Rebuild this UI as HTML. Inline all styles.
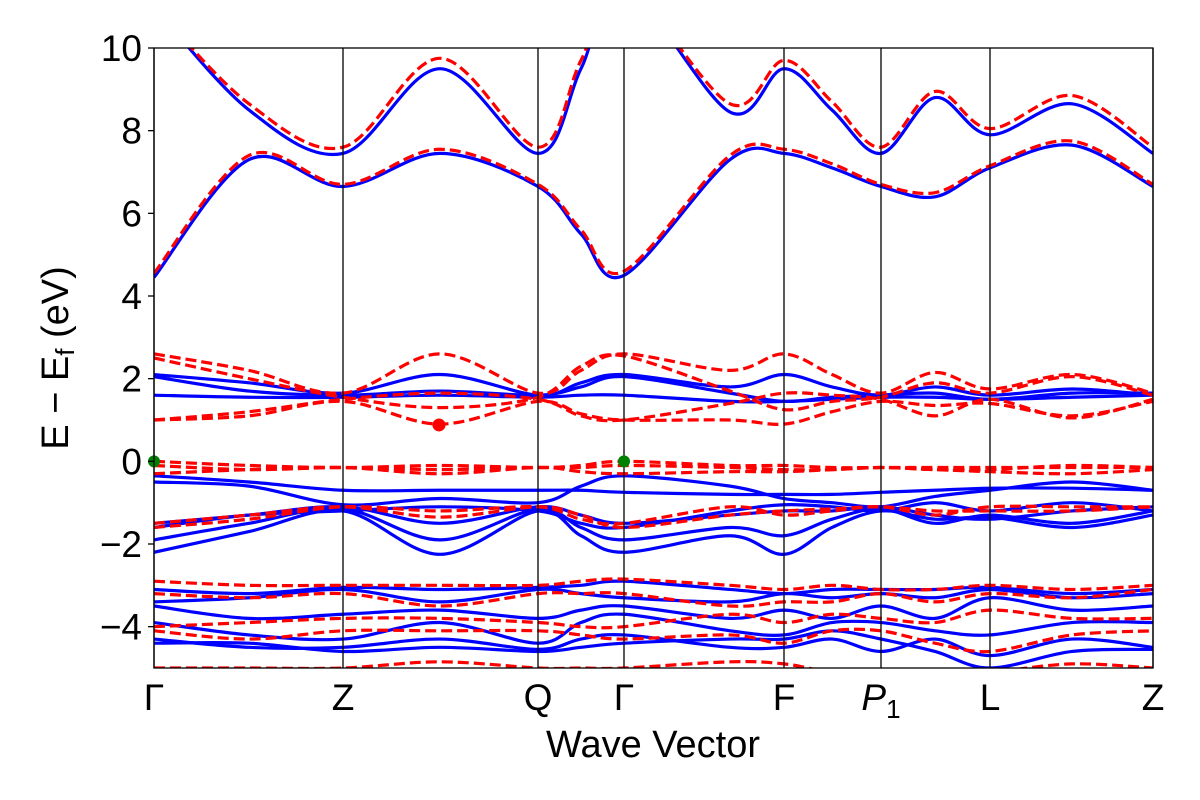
<!DOCTYPE html>
<html><head><meta charset="utf-8"><style>
body{margin:0;background:#fff;}
svg{display:block;font-family:"Liberation Sans","DejaVu Sans",sans-serif;}
</style></head><body>
<svg id="chart" width="1200" height="800" viewBox="0 0 1200 800">
<defs><clipPath id="clip"><rect x="154" y="48" width="999" height="620"/></clipPath></defs>
<g id="bands" clip-path="url(#clip)"></g>
<g id="axes"></g>
</svg>
<script>
const kPts=[0,95,189,286,384,427,470,576,630,678,727,781,836,918,999];
const symLabels=["Γ","Z","Q","Γ","F","P1","L","Z"];
const symK=[0,189,384,470,630,727,836,999];
const yTicks=[-4,-2,0,2,4,6,8,10];
const yMin=-5, yMax=10;
const blueBands=[
[4.45,7.3,6.65,7.45,6.65,5.5,4.5,7.3,7.45,7.1,6.65,6.4,7.1,7.65,6.65],
[11,8.5,7.45,9.5,7.45,9.5,11.5,8.45,9.5,8.5,7.45,8.8,7.9,8.65,7.45],
[2.1,1.9,1.65,2.1,1.6,1.9,2.1,1.8,2.1,1.8,1.6,1.8,1.6,1.75,1.6],
[2.05,1.7,1.6,1.7,1.6,1.8,2.05,1.65,1.45,1.55,1.6,1.65,1.5,1.65,1.65],
[1.6,1.55,1.55,1.6,1.55,1.6,1.6,1.45,1.45,1.5,1.55,1.55,1.5,1.55,1.6],
[-0.35,-0.5,-0.7,-0.7,-0.7,-0.7,-0.75,-0.8,-0.8,-0.8,-0.75,-0.7,-0.65,-0.65,-0.7],
[-0.5,-0.6,-1.05,-0.9,-1.0,-0.6,-0.35,-0.6,-0.9,-1.0,-1.1,-0.85,-0.7,-0.5,-0.7],
[-1.5,-1.3,-1.1,-1.5,-1.1,-1.3,-1.5,-1.3,-1.2,-1.2,-1.1,-1.3,-1.4,-1.2,-1.1],
[-1.9,-1.5,-1.15,-1.9,-1.15,-1.6,-1.9,-1.6,-1.8,-1.4,-1.15,-1.5,-1.3,-1.5,-1.2],
[-2.2,-1.7,-1.2,-2.25,-1.2,-1.8,-2.2,-1.8,-2.25,-1.6,-1.2,-1.4,-1.35,-1.6,-1.3],
[-1.6,-1.3,-1.2,-1.1,-1.2,-1.5,-1.6,-1.2,-1.05,-1.1,-1.2,-1.0,-1.2,-1.0,-1.2],
[-3.1,-3.2,-3.05,-3.1,-3.05,-3.0,-2.9,-3.1,-3.2,-3.1,-3.1,-3.1,-3.05,-3.2,-3.1],
[-3.4,-3.3,-3.1,-3.4,-3.1,-3.2,-3.3,-3.4,-3.2,-3.3,-3.2,-3.3,-3.1,-3.3,-3.2],
[-3.5,-3.8,-3.7,-3.6,-3.8,-3.6,-3.5,-3.8,-3.6,-3.8,-3.5,-3.8,-3.3,-3.6,-3.5],
[-3.9,-4.2,-4.3,-3.9,-4.4,-3.9,-3.7,-4.1,-4.2,-3.9,-3.9,-4.1,-4.2,-3.9,-3.9],
[-4.3,-4.5,-4.5,-4.3,-4.55,-4.3,-4.2,-4.5,-4.5,-4.3,-4.6,-4.3,-4.7,-4.3,-4.5],
[-4.4,-4.4,-4.6,-4.5,-4.6,-4.5,-4.4,-4.3,-4.3,-4.1,-4.3,-4.6,-5.0,-4.6,-4.55]
];
const redBands=[
[4.55,7.4,6.7,7.55,6.7,5.6,4.6,7.4,7.55,7.2,6.7,6.5,7.15,7.75,6.7],
[11,8.65,7.6,9.75,7.6,9.7,11.5,8.65,9.7,8.7,7.6,8.95,8.05,8.85,7.6],
[2.6,2.2,1.65,2.6,1.65,2.2,2.6,2.2,2.6,2.1,1.65,2.15,1.75,2.1,1.65],
[2.5,2.0,1.55,1.3,1.55,2.3,2.55,1.7,1.25,1.45,1.55,1.9,1.65,2.05,1.6],
[1.0,1.2,1.5,1.65,1.5,1.1,1.0,1.4,1.65,1.6,1.5,1.1,1.5,1.05,1.5],
[1.0,1.1,1.45,0.9,1.45,1.15,1.0,1.0,0.9,1.2,1.45,1.35,1.4,1.1,1.45],
[0.0,-0.1,-0.15,-0.1,-0.15,-0.1,0.0,-0.1,-0.1,-0.15,-0.15,-0.15,-0.15,-0.15,-0.15],
[-0.1,-0.2,-0.15,-0.2,-0.15,-0.15,-0.1,-0.15,-0.2,-0.2,-0.15,-0.2,-0.2,-0.1,-0.15],
[-0.3,-0.2,-0.15,-0.3,-0.15,-0.25,-0.3,-0.25,-0.25,-0.2,-0.15,-0.2,-0.25,-0.3,-0.2],
[-1.5,-1.3,-1.1,-1.35,-1.1,-1.3,-1.6,-1.3,-1.2,-1.15,-1.1,-1.2,-1.2,-1.2,-1.1],
[-1.6,-1.4,-1.1,-1.2,-1.1,-1.4,-1.5,-1.1,-1.3,-1.2,-1.1,-1.3,-1.1,-1.1,-1.1],
[-2.9,-3.0,-3.0,-3.0,-3.0,-2.9,-2.85,-3.0,-3.1,-3.0,-3.1,-3.1,-3.0,-3.1,-3.0],
[-3.2,-3.3,-3.2,-3.5,-3.2,-3.2,-3.2,-3.5,-3.4,-3.4,-3.2,-3.4,-3.2,-3.3,-3.1],
[-4.0,-3.9,-3.8,-3.8,-3.9,-4.0,-4.0,-3.7,-3.9,-3.7,-3.8,-3.9,-3.6,-3.8,-3.8],
[-4.1,-4.3,-4.1,-4.1,-4.1,-4.2,-4.3,-4.2,-4.4,-4.1,-4.1,-4.4,-4.6,-4.2,-4.1],
[-5.0,-5.0,-5.0,-4.85,-5.0,-5.0,-5.0,-4.85,-4.9,-5.1,-5.1,-5.1,-5.1,-4.9,-5.0]
];
const redDots=[[285,0.88]];
const greenDots=[[0,0],[470,0]];

const NS="http://www.w3.org/2000/svg";
const X0=154,X1=1153,Y0=48,Y1=668;
const xs=k=>X0+(k-kPts[0])/(kPts[kPts.length-1]-kPts[0])*(X1-X0);
const ys=e=>Y1-(e-yMin)/(yMax-yMin)*(Y1-Y0);
function mk(tag,attrs,parent){const el=document.createElementNS(NS,tag);for(const a in attrs)el.setAttribute(a,attrs[a]);parent.appendChild(el);return el;}
function pathD(vals){
  const p=vals.map((v,i)=>[xs(kPts[i]),ys(v)]);
  let d=`M${p[0][0]},${p[0][1]}`;
  for(let i=0;i<p.length-1;i++){
    const a=p[Math.max(i-1,0)],b=p[i],c=p[i+1],e=p[Math.min(i+2,p.length-1)];
    const c1=[b[0]+(c[0]-a[0])/6,b[1]+(c[1]-a[1])/6];
    const c2=[c[0]-(e[0]-b[0])/6,c[1]-(e[1]-b[1])/6];
    d+=` C${c1[0]},${c1[1]} ${c2[0]},${c2[1]} ${c[0]},${c[1]}`;
  }
  return d;
}
const bands=document.getElementById('bands');
blueBands.forEach((b,i)=>{
  const el=mk('path',{d:pathD(b),fill:'none',stroke:'#0000ff','stroke-width':3.2},bands);
  
  
});
redBands.forEach((b,i)=>{
  const el=mk('path',{d:pathD(b),fill:'none',stroke:'#ff0000','stroke-width':3.2,'stroke-dasharray':'11,5'},bands);
  
  
});
const axes=document.getElementById('axes');
symK.forEach((k,i)=>{
  const l=mk('line',{x1:xs(k),x2:xs(k),y1:Y0,y2:Y1,stroke:'#000','stroke-width':1.3},axes);
  
  
  const t=mk('text',{x:xs(k),y:710,'text-anchor':'middle','font-size':37},axes);
  if(symLabels[i]==="P1"){
    t.innerHTML='<tspan font-style="italic">P</tspan><tspan font-size="26" dy="8">1</tspan>';
  } else {
    t.textContent=symLabels[i];
  }
  
  
});
redDots.forEach(d=>{const c=mk('circle',{cx:xs(d[0]),cy:ys(d[1]),r:6.5,fill:'#ff0000'},axes);
  
  });
greenDots.forEach(d=>{const c=mk('circle',{cx:xs(d[0]),cy:ys(d[1]),r:6,fill:'#008000'},axes);
  
  });
const fr=mk('rect',{x:X0,y:Y0,width:X1-X0,height:Y1-Y0,fill:'none',stroke:'#000','stroke-width':1.3},axes);


yTicks.forEach(v=>{
  const tk=mk('line',{x1:X0-6,x2:X0,y1:ys(v),y2:ys(v),stroke:'#000','stroke-width':1.3},axes);
  
  
  const t=mk('text',{x:X0-12,y:ys(v)+13,'text-anchor':'end','font-size':37},axes);
  t.textContent=v<0?'\u2212'+Math.abs(v):String(v);
  
  
});
const xl=mk('text',{x:653,y:757,'text-anchor':'middle','font-size':38},axes);
xl.textContent='Wave Vector';


const yl=mk('text',{x:0,y:0,'text-anchor':'middle','font-size':38,transform:'translate(68,358) rotate(-90)'},axes);
yl.innerHTML='E \u2212 E<tspan font-size="26" dy="6">f</tspan><tspan dy="-6"> (eV)</tspan>';


</script>
</body></html>
